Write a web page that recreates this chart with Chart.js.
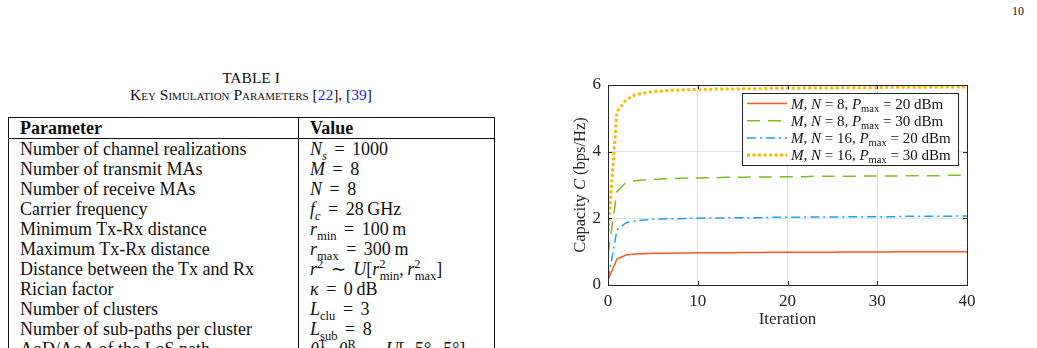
<!DOCTYPE html>
<html>
<head>
<meta charset="utf-8">
<script src="https://cdn.jsdelivr.net/npm/chart.js@4.4.1/dist/chart.umd.min.js"></script>
<style>
  html, body { margin: 0; padding: 0; background: #fff; }
  body { width: 1037px; height: 348px; overflow: hidden; position: relative;
         font-family: "Liberation Serif", "Times New Roman", serif; color: #111; }
  .pageno { position: absolute; left: 1012px; top: 4px; font-size: 12px; }
  .cap1 { position: absolute; left: 0; width: 502px; top: 69px; text-align: center; font-size: 15.5px; }
  .cap2 { position: absolute; left: 0; width: 502px; top: 86px; text-align: center; font-size: 15.5px;
          font-variant: small-caps; }
  .cap2 a { color: #1a1aff; text-decoration: none; font-variant: normal; }
  table.params { position: absolute; left: 8px; top: 117px; width: 487px; border-collapse: collapse;
                 border: 1px solid #111; font-size: 18px; }
  table.params td, table.params th { padding: 0 0 0 11px; height: 20px; line-height: 20px;
                 text-align: left; white-space: nowrap; }
  table.params th { border-bottom: 1px solid #111; font-weight: bold; }
  table.params td:first-child, table.params th:first-child { width: 278px; border-right: 1px solid #111; }
  table.params td + td { word-spacing: 3px; }
  sub, sup { font-size: 70%; line-height: 0; }
  .chartbox { position: absolute; left: 550px; top: 75px; width: 430px; height: 260px; }
</style>
</head>
<body>
<div class="pageno">10</div>
<div class="cap1">TABLE I</div>
<div class="cap2">Key Simulation Parameters [<a>22</a>], [<a>39</a>]</div>
<table class="params">
  <tr><th>Parameter</th><th>Value</th></tr>
  <tr><td>Number of channel realizations</td><td><i>N<sub>s</sub></i> = 1000</td></tr>
  <tr><td>Number of transmit MAs</td><td><i>M</i> = 8</td></tr>
  <tr><td>Number of receive MAs</td><td><i>N</i> = 8</td></tr>
  <tr><td>Carrier frequency</td><td><i>f<sub>c</sub></i> = 28&#8201;GHz</td></tr>
  <tr><td>Minimum Tx-Rx distance</td><td><i>r</i><sub>min</sub> = 100&#8201;m</td></tr>
  <tr><td>Maximum Tx-Rx distance</td><td><i>r</i><sub>max</sub> = 300&#8201;m</td></tr>
  <tr><td>Distance between the Tx and Rx</td><td><i>r</i><sup>2</sup> &#8764; <i>U</i>[<i>r</i><sup>2</sup><sub style="margin-left:-6px">min</sub>,&#8201;<i>r</i><sup>2</sup><sub style="margin-left:-6px">max</sub>]</td></tr>
  <tr><td>Rician factor</td><td><i>&#954;</i> = 0&#8201;dB</td></tr>
  <tr><td>Number of clusters</td><td><i>L</i><sub>clu</sub> = 3</td></tr>
  <tr><td>Number of sub-paths per cluster</td><td><i>L</i><sub>sub</sub> = 8</td></tr>
  <tr><td>AoD/AoA of the LoS path</td><td><i>&#952;</i><sup>T</sup>, <i>&#952;</i><sup>R</sup> &#8764; <i>U</i>[&#8722;5&#176;, 5&#176;]</td></tr>
</table>
<div class="chartbox"><canvas id="capChart" width="430" height="260"></canvas></div>
<script>
// iterations 0..40
const iterations = [0,1,2,3,4,5,6,7,8,9,10,11,12,13,14,15,16,17,18,19,20,
  21,22,23,24,25,26,27,28,29,30,31,32,33,34,35,36,37,38,39,40];

// M,N = 8, Pmax = 20 dBm
const capN8P20 = [0.15,0.78,0.90,0.93,0.94,0.95,0.95,0.955,0.96,0.96,0.965,
  0.965,0.97,0.97,0.97,0.975,0.975,0.975,0.98,0.98,0.98,
  0.98,0.985,0.985,0.985,0.985,0.99,0.99,0.99,0.99,0.99,
  0.99,0.995,0.995,0.995,0.995,0.995,1.0,1.0,1.0,1.0];
// M,N = 8, Pmax = 30 dBm
const capN8P30 = [0.90,2.80,3.08,3.13,3.15,3.17,3.18,3.19,3.20,3.21,3.21,
  3.22,3.22,3.23,3.23,3.23,3.24,3.24,3.24,3.25,3.25,
  3.25,3.25,3.26,3.26,3.26,3.26,3.26,3.27,3.27,3.27,
  3.27,3.27,3.28,3.28,3.28,3.28,3.28,3.29,3.29,3.29];
// M,N = 16, Pmax = 20 dBm
const capN16P20 = [0.15,1.65,1.87,1.92,1.95,1.97,1.98,1.99,1.99,2.00,2.00,
  2.01,2.01,2.01,2.02,2.02,2.02,2.02,2.03,2.03,2.03,
  2.03,2.04,2.04,2.04,2.04,2.04,2.05,2.05,2.05,2.05,
  2.05,2.05,2.06,2.06,2.06,2.06,2.06,2.06,2.07,2.07];
// M,N = 16, Pmax = 30 dBm
const capN16P30 = [1.60,5.20,5.55,5.70,5.76,5.80,5.82,5.84,5.85,5.86,5.87,
  5.87,5.88,5.88,5.88,5.89,5.89,5.89,5.90,5.90,5.90,
  5.90,5.91,5.91,5.91,5.91,5.92,5.92,5.92,5.92,5.92,
  5.93,5.93,5.93,5.93,5.93,5.94,5.94,5.94,5.94,5.94];

const legendMN = ['8', '8', '16', '16'];
const legendP = ['20', '30', '20', '30'];
const xTicks = [0, 10, 20, 30, 40];
const yTicks = [0, 2, 4, 6];

const axisCol = '#262626';
const serif = '"Liberation Serif", "Times New Roman", serif';

const toXY = arr => arr.map((v, i) => ({ x: iterations[i], y: v }));

const series = [
  { data: capN8P20, color: '#FF5722', width: 1.5, dash: [] },
  { data: capN8P30, color: '#7CBE1C', width: 1.5, dash: [13, 8] },
  { data: capN16P20, color: '#16A5F2', width: 1.5, dash: [9, 4, 2, 4] },
  { data: capN16P30, color: '#FFB400', width: 3, dash: [3, 2.5] }
];

function drawSegs(ctx, segs, x, y, size) {
  segs.forEach(s => {
    if (s.sub) {
      ctx.font = (size * 0.7) + 'px ' + serif;
      ctx.fillText(s.t, x, y + 3);
    } else {
      ctx.font = (s.i ? 'italic ' : '') + size + 'px ' + serif;
      ctx.fillText(s.t, x, y);
    }
    x += ctx.measureText(s.t).width;
  });
}

function segsWidth(ctx, segs, size) {
  let w = 0;
  segs.forEach(s => {
    ctx.font = s.sub ? (size * 0.7) + 'px ' + serif : (s.i ? 'italic ' : '') + size + 'px ' + serif;
    w += ctx.measureText(s.t).width;
  });
  return w;
}

// scales should not push the plot area around
function noPad(sc) {
  sc.paddingTop = 0; sc.paddingBottom = 0; sc.paddingLeft = 0; sc.paddingRight = 0;
}

const texPlugin = {
  id: 'texDecor',
  afterDraw(chart) {
    const { ctx, chartArea: a, scales } = chart;
    ctx.save();
    // box + inward ticks
    ctx.strokeStyle = axisCol;
    ctx.lineWidth = 1;
    ctx.strokeRect(Math.round(a.left) + 0.5, Math.round(a.top) + 0.5,
      Math.round(a.right - a.left), Math.round(a.bottom - a.top));
    ctx.beginPath();
    xTicks.forEach(v => {
      const px = Math.round(scales.x.getPixelForValue(v)) + 0.5;
      ctx.moveTo(px, a.bottom); ctx.lineTo(px, a.bottom - 4);
      ctx.moveTo(px, a.top); ctx.lineTo(px, a.top + 4);
    });
    yTicks.forEach(v => {
      const py = Math.round(scales.y.getPixelForValue(v)) + 0.5;
      ctx.moveTo(a.left, py); ctx.lineTo(a.left + 4, py);
      ctx.moveTo(a.right, py); ctx.lineTo(a.right - 4, py);
    });
    ctx.stroke();

    // y axis title with italic C
    const tsize = 16.5;
    const ySegs = [{ t: 'Capacity ' }, { t: 'C', i: true }, { t: ' (bps/Hz)' }];
    const tw = segsWidth(ctx, ySegs, tsize);
    ctx.save();
    ctx.translate(35, (a.top + a.bottom) / 2);
    ctx.rotate(-Math.PI / 2);
    ctx.fillStyle = axisCol;
    ctx.textBaseline = 'alphabetic';
    drawSegs(ctx, ySegs, -tw / 2, 0, tsize);
    ctx.restore();

    // legend
    const lw = 216, lh = 72;
    const x0 = Math.round(a.right - 9 - lw), y0 = Math.round(a.top + 8);
    ctx.fillStyle = '#fff';
    ctx.fillRect(x0, y0, lw, lh);
    ctx.strokeStyle = axisCol;
    ctx.strokeRect(x0 + 0.5, y0 + 0.5, lw, lh);
    series.forEach((s, i) => {
      const cy = y0 + 10.5 + i * 17.2;
      ctx.beginPath();
      ctx.setLineDash(s.dash);
      ctx.lineWidth = s.width;
      ctx.strokeStyle = s.color;
      ctx.moveTo(x0 + 5, cy); ctx.lineTo(x0 + 45, cy);
      ctx.stroke();
      ctx.setLineDash([]);
      ctx.fillStyle = '#111';
      drawSegs(ctx, [
        { t: 'M', i: true }, { t: ', ' }, { t: 'N', i: true }, { t: ' = ' + legendMN[i] + ', ' },
        { t: 'P', i: true }, { t: 'max', sub: true }, { t: ' = ' + legendP[i] + ' dBm' }
      ], x0 + 49, cy + 5, 15);
    });
    ctx.restore();
  }
};

new Chart(document.getElementById('capChart'), {
  type: 'line',
  data: {
    datasets: series.map(s => ({
      data: toXY(s.data),
      borderColor: s.color,
      backgroundColor: s.color,
      borderWidth: s.width,
      borderDash: s.dash,
      borderCapStyle: 'butt',
      pointRadius: 0,
      tension: 0,
      fill: false
    }))
  },
  options: {
    responsive: false,
    animation: false,
    layout: { padding: { left: 0, right: 13, top: 10, bottom: 0 } },
    plugins: { legend: { display: false }, tooltip: { enabled: false } },
    scales: {
      x: {
        type: 'linear', min: 0, max: 40,
        afterFit: sc => { sc.height = 50; noPad(sc); },
        afterBuildTicks: sc => { sc.ticks = xTicks.map(v => ({ value: v })); },
        grid: { color: '#e3e3e3', drawTicks: false },
        border: { display: false },
        ticks: { color: axisCol, padding: 6, font: { family: serif, size: 17 } },
        title: { display: true, text: 'Iteration', color: axisCol,
                 padding: { top: 0, bottom: 5 }, font: { family: serif, size: 17 } }
      },
      y: {
        min: 0, max: 6,
        afterFit: sc => { sc.width = 58; noPad(sc); },
        afterBuildTicks: sc => { sc.ticks = yTicks.map(v => ({ value: v })); },
        grid: { color: '#e3e3e3', drawTicks: false },
        border: { display: false },
        ticks: { color: axisCol, padding: 7, font: { family: serif, size: 17 } }
      }
    }
  },
  plugins: [texPlugin]
});
</script>
</body>
</html>
